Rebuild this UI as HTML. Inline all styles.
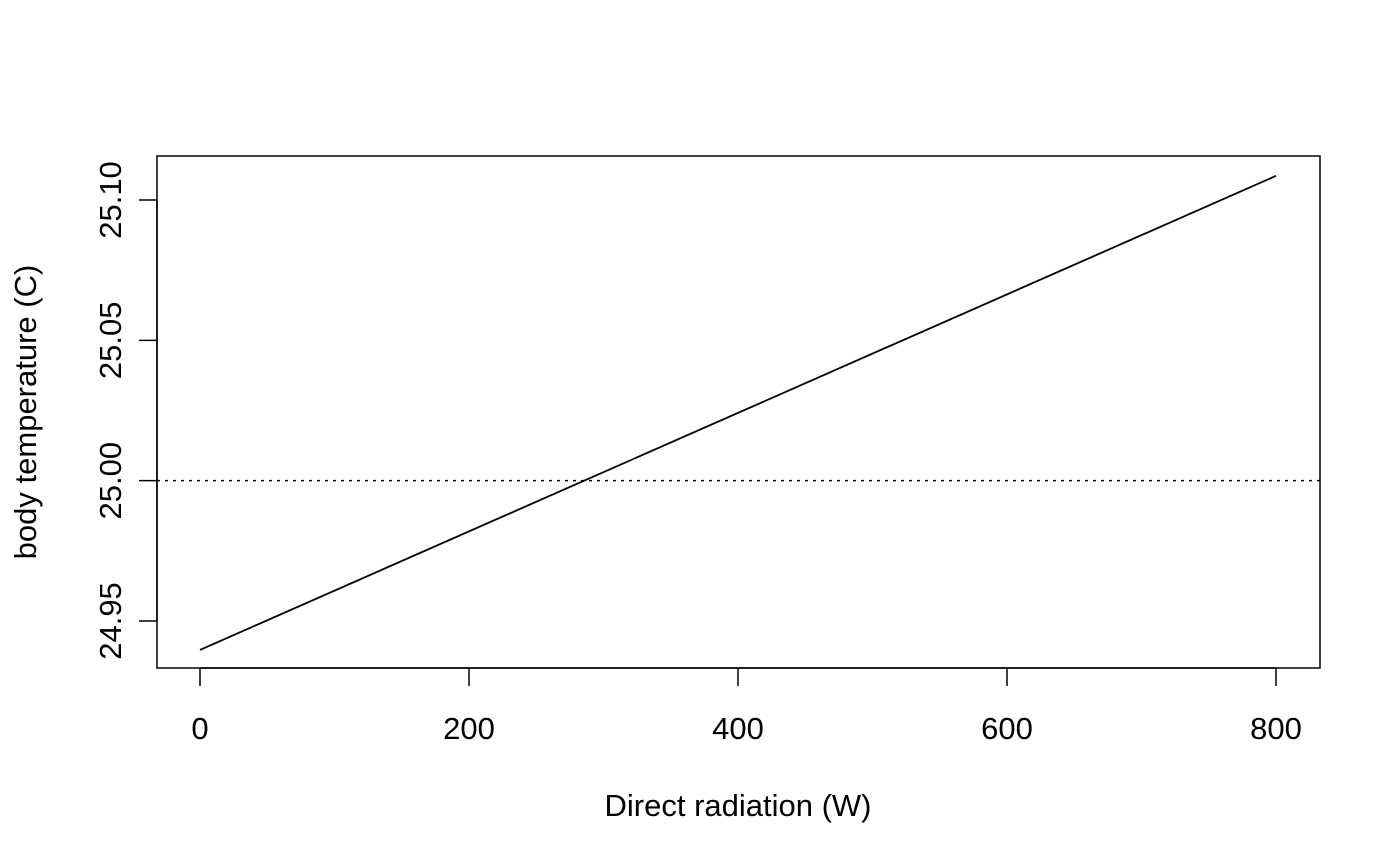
<!DOCTYPE html>
<html><head><meta charset="utf-8">
<style>
html,body{margin:0;padding:0;background:#fff;}
svg{display:block;font-family:"Liberation Sans",Arial,sans-serif;}
</style></head>
<body>
<svg id="chart" width="1400" height="865" viewBox="0 0 1400 865">
<rect x="157" y="156" width="1163" height="512" fill="none" stroke="#000" stroke-width="1.5"/>
<g id="xaxis"></g>
<g id="yaxis"></g>
<g id="series"></g>
<text x="738" y="816" font-size="31" text-anchor="middle">Direct radiation (W)</text>
<text transform="translate(36,412) rotate(-90)" font-size="31" text-anchor="middle">body temperature (C)</text>
</svg>
<script>
const xTicks = [0, 200, 400, 600, 800];
const yTicks = [24.95, 25.00, 25.05, 25.10];
const xValues = [0, 800];
const yValues = [24.9397, 25.1086];
const refValue = 25.00;

const NS = "http://www.w3.org/2000/svg";
const sx = v => 200 + (v - 0) * (1276 - 200) / 800;
const sy = v => 621 - (v - 24.95) * (621 - 200) / 0.15;
function mk(tag, attrs, parent){const e=document.createElementNS(NS,tag);for(const k in attrs)e.setAttribute(k,attrs[k]);parent.appendChild(e);return e;}

const xa = document.getElementById('xaxis');
const l1 = mk('line',{x1:sx(xTicks[0]),x2:sx(xTicks[xTicks.length-1]),y1:668,y2:668,stroke:'#000','stroke-width':1.5},xa);


xTicks.forEach(t=>{
  const tk = mk('line',{x1:sx(t),x2:sx(t),y1:668,y2:686,stroke:'#000','stroke-width':1.5},xa);
  
  
  const tx = mk('text',{x:sx(t),y:739,'font-size':31,'text-anchor':'middle'},xa);
  tx.textContent = String(t);
  
  
});

const ya = document.getElementById('yaxis');
const l2 = mk('line',{x1:157,x2:157,y1:sy(yTicks[0]),y2:sy(yTicks[yTicks.length-1]),stroke:'#000','stroke-width':1.5},ya);


yTicks.forEach(t=>{
  const tk = mk('line',{x1:139,x2:157,y1:sy(t),y2:sy(t),stroke:'#000','stroke-width':1.5},ya);
  
  
  const tx = mk('text',{transform:`translate(121,${sy(t)}) rotate(-90)`,'font-size':31,'text-anchor':'middle'},ya);
  tx.textContent = t.toFixed(2);
  
  
});

const sg = document.getElementById('series');
const ref = mk('line',{x1:157,x2:1320,y1:sy(refValue),y2:sy(refValue),stroke:'#000','stroke-width':1.5,'stroke-dasharray':'3,5'},sg);


const pts = xValues.map((x,i)=>sx(x)+','+sy(yValues[i])).join(' ');
const pl = mk('polyline',{points:pts,fill:'none',stroke:'#000','stroke-width':1.8},sg);


</script>
</body></html>
